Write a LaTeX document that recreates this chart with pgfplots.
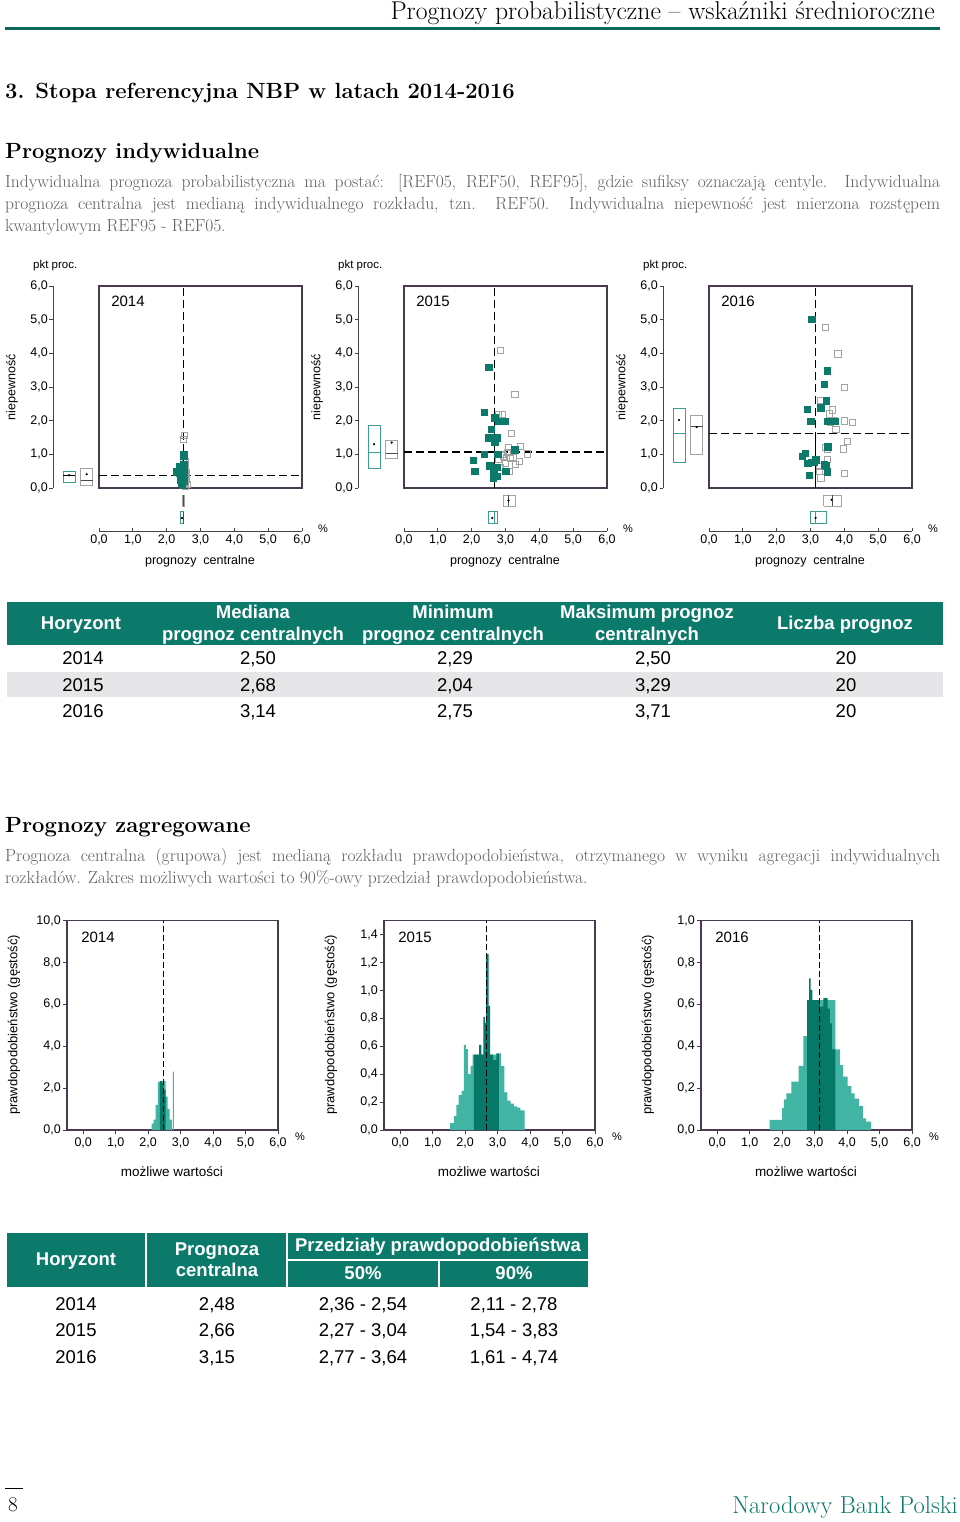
\documentclass[border=0pt]{standalone}
\usepackage{fontspec}
\setsansfont{Liberation Sans}
\usepackage{pgfplots}
\pgfplotsset{compat=1.18}
\newcommand\fsz[1]{\fontsize{#1}{#1}\selectfont}
\definecolor{nbpteal}{HTML}{0B7A6A}
\definecolor{histlight}{HTML}{42B4A3}
\definecolor{histdark}{HTML}{077868}
\definecolor{boxteal}{HTML}{3C9E90}
\definecolor{sqgray}{HTML}{A3A3A3}
\definecolor{frame}{HTML}{4A3A50}
\definecolor{axiscol}{HTML}{444444}
\definecolor{rowgray}{HTML}{E6E6E9}
\definecolor{txtgray}{HTML}{5E5E5E}
\pgfplotsset{
  every axis/.append style={/pgf/number format/assume math mode=true},
  tlab/.style={font=\sffamily\fsz{12.5}, /pgf/number format/.cd, fixed, fixed zerofill, precision=1, use comma},
  scatmain/.style={anchor=south west, scale only axis, width=203pt, height=202pt,
     xmin=0, xmax=6, ymin=0, ymax=6, ticks=none, clip=false,
     axis line style={draw=frame, line width=1.3pt}},
  gsq/.style={only marks, mark=square, mark size=3.1pt, mark options={draw=sqgray, fill=white, line width=0.9pt}},
  tsq/.style={only marks, mark=square*, mark size=3.2pt, mark options={draw=nbpteal, fill=nbpteal}},
  mline/.style={black, line width=1.1pt, dash pattern=on 8pt off 4pt},
  sline/.style={black, line width=1.1pt},
  tbox/.style={boxteal, line width=0.9pt},
  gbox/.style={sqgray, line width=0.9pt},
  gboxm/.style={black!70, line width=0.8pt},
  dot/.style={only marks, mark=*, mark size=0.9pt, black},
  histax/.style={anchor=south west, scale only axis, width=211pt, height=209.3pt,
     xmin=-0.5, xmax=6, ymin=0, xtick={0,1,2,3,4,5,6}, xtick pos=left, ytick pos=left,
     tick align=outside, major tick length=4pt,
     axis line style={draw=frame, line width=1.2pt}, tick style={draw=frame, line width=0.8pt},
     xticklabel style={tlab}, yticklabel style={inner sep=2pt, tlab}},
  hl/.style={const plot, fill=histlight, draw=none},
  hd/.style={const plot, fill=histdark, draw=none},
  hline/.style={black, line width=1.1pt, dash pattern=on 6pt off 3pt},
}
\newcommand{\scatterframe}[2]{%
  \begin{axis}[at={({#1pt-46pt},-488pt)}, anchor=south west, scale only axis, width=10pt, height=202pt,
     xmin=0, xmax=1, ymin=0, ymax=6, hide x axis, axis y line*=left, ytick={0,1,2,3,4,5,6},
     tick align=outside, major tick length=3.5pt,
     axis line style={draw=axiscol, line width=0.8pt}, tick style={draw=axiscol, line width=0.8pt},
     yticklabel style={inner sep=1.5pt, tlab}]
    \addplot[draw=none] coordinates {(0,0)};
  \end{axis}
  \begin{axis}[at={(#1pt,-531pt)}, anchor=south west, scale only axis, width=203pt, height=10pt,
     xmin=0, xmax=6, ymin=0, ymax=1, hide y axis, axis x line*=bottom, xtick={0,1,2,3,4,5,6},
     tick align=inside, major tick length=3pt,
     axis line style={draw=axiscol, line width=0.8pt}, tick style={draw=axiscol, line width=0.8pt},
     xticklabel style={inner sep=3.5pt, tlab}]
    \addplot[draw=none] coordinates {(0,0)};
  \end{axis}
  \node[font=\sffamily\fsz{11.5}, anchor=west, inner sep=0] at ({#1pt-66pt},-266pt) {pkt proc.};
  \node[font=\sffamily\fsz{12.5}, rotate=90] at ({#1pt-87pt},-387pt) {niepewność};
  \node[font=\sffamily\fsz{11}] at ({#1pt+224pt},-529pt) {\%};
  \node[font=\sffamily\fsz{12.5}] at ({#1pt+101pt},-561pt) {prognozy\ \ centralne};
  \node[font=\sffamily\fsz{15}] at ({#1pt+29pt},-301pt) {#2};
}
\newcommand{\histlabels}[2]{%
  \node[font=\sffamily\fsz{13}, rotate=90] at ({#1pt-53pt},-1025pt) {prawdopodobieństwo (gęstość)};
  \node[font=\sffamily\fsz{13.5}] at ({#1pt+105pt},-1172pt) {możliwe wartości};
  \node[font=\sffamily\fsz{11}] at ({#1pt+233pt},-1137pt) {\%};
  \node[font=\sffamily\fsz{15}] at ({#1pt+31pt},-937pt) {#2};
}
\begin{document}
\begin{tikzpicture}
\path[use as bounding box, fill=white] (0pt,0pt) rectangle (960pt,-1522pt);
% ---------- page header ----------
\node[anchor=base east, inner sep=0, font=\fsz{25.7}] at (935pt,-20pt) {Prognozy probabilistyczne – wskaźniki średnioroczne};
\fill[nbpteal!85!black] (5pt,-27.5pt) rectangle (940pt,-30.5pt);
\node[anchor=base west, inner sep=0, font=\bfseries\fsz{22}] at (5pt,-98.5pt) {3. Stopa referencyjna NBP w latach 2014-2016};
\node[anchor=base west, inner sep=0, font=\bfseries\fsz{22}] at (5pt,-159pt) {Prognozy indywidualne};
\node[anchor=base west, inner sep=0, font=\fsz{17.5}, text=txtgray] at (5pt,-187.5pt) {\makebox[935pt][s]{Indywidualna prognoza probabilistyczna ma postać: [REF05, REF50, REF95], gdzie sufiksy oznaczają centyle. Indywidualna}};
\node[anchor=base west, inner sep=0, font=\fsz{17.5}, text=txtgray] at (5pt,-209.5pt) {\makebox[935pt][s]{prognoza centralna jest medianą indywidualnego rozkładu, tzn. REF50. Indywidualna niepewność jest mierzona rozstępem}};
\node[anchor=base west, inner sep=0, font=\fsz{17.5}, text=txtgray] at (5pt,-231.5pt) {kwantylowym REF95 - REF05.};
% ---------- scatter 2014 ----------
\scatterframe{99}{2014}
\begin{axis}[scatmain, at={(99pt,-488pt)}]
 \addplot[gsq] coordinates {(2.52,1.55) (2.50,1.45) (2.55,0.80) (2.55,0.65) (2.58,0.45) (2.56,0.30) (2.60,0.10) (2.52,0.20) (2.50,0.40) (2.55,0.50) (2.50,0.30) (2.53,0.15) (2.50,0.55) (2.57,0.25) (2.50,0.10) (2.52,0.35) (2.50,0.75) (2.54,0.42) (2.50,0.20) (2.55,0.05)};
 \addplot[tsq] coordinates {(2.50,1.00) (2.50,0.95) (2.29,0.49) (2.33,0.50) (2.39,0.64) (2.42,0.55) (2.45,0.50) (2.47,0.40) (2.44,0.15) (2.40,0.25) (2.45,0.30) (2.50,0.20) (2.50,0.45) (2.48,0.60) (2.50,0.35) (2.46,0.10) (2.38,0.45) (2.50,0.70) (2.43,0.35) (2.50,0.50)};
 \addplot[mline] coordinates {(2.50,0) (2.50,6)};
 \addplot[sline] coordinates {(2.50,0) (2.50,1.1)};
 \addplot[mline] coordinates {(0,0.38) (6,0.38)};
 \addplot[tbox] coordinates {(-1.06,0.17) (-0.71,0.17) (-0.71,0.49) (-1.06,0.49) (-1.06,0.17)};
 \addplot[tbox, black] coordinates {(-1.06,0.38) (-0.71,0.38)};
 \addplot[dot] coordinates {(-0.885,0.38)};
 \addplot[gbox] coordinates {(-0.54,0.07) (-0.19,0.07) (-0.19,0.57) (-0.54,0.57) (-0.54,0.07)};
 \addplot[gboxm] coordinates {(-0.54,0.23) (-0.19,0.23)};
 \addplot[dot] coordinates {(-0.365,0.41)};
 \addplot[gbox] coordinates {(2.46,-0.54) (2.52,-0.54) (2.52,-0.21) (2.46,-0.21) (2.46,-0.54)};
 \addplot[gboxm] coordinates {(2.50,-0.54) (2.50,-0.21)};
 \addplot[tbox] coordinates {(2.42,-1.06) (2.51,-1.06) (2.51,-0.71) (2.42,-0.71) (2.42,-1.06)};
 \addplot[gboxm] coordinates {(2.50,-1.06) (2.50,-0.71)};
 \addplot[dot] coordinates {(2.45,-0.89)};
\end{axis}
% ---------- scatter 2015 ----------
\scatterframe{404}{2015}
\begin{axis}[scatmain, at={(404pt,-488pt)}]
 \addplot[gsq] coordinates {(2.85,4.09) (3.28,2.79) (2.78,2.19) (2.91,2.19) (3.18,1.61) (3.09,1.20) (3.43,1.24) (3.64,1.01) (3.22,0.91) (3.02,0.91) (2.80,0.84) (2.99,0.74) (3.41,0.78) (3.10,0.49) (2.95,0.95) (3.05,1.05) (2.90,1.00) (3.15,0.88) (2.85,0.60) (3.30,0.70)};
 \addplot[tsq] coordinates {(2.50,3.59) (2.37,2.26) (2.68,2.09) (2.80,1.99) (2.99,1.99) (2.58,1.75) (2.50,1.50) (2.74,1.50) (2.68,1.38) (3.27,1.14) (2.37,1.01) (2.77,1.01) (2.04,0.83) (2.09,0.50) (2.53,0.66) (2.74,0.62) (2.65,0.54) (3.01,0.50) (2.63,0.31) (2.74,0.35)};
 \addplot[mline] coordinates {(2.68,0) (2.68,6)};
 \addplot[sline] coordinates {(2.68,0) (2.68,2.1)};
 \addplot[mline] coordinates {(0,1.07) (6,1.07)};
 \addplot[tbox] coordinates {(-1.06,0.59) (-0.71,0.59) (-0.71,1.86) (-1.06,1.86) (-1.06,0.59)};
 \addplot[tbox] coordinates {(-1.06,1.07) (-0.71,1.07)};
 \addplot[dot] coordinates {(-0.885,1.30)};
 \addplot[gbox] coordinates {(-0.54,0.87) (-0.19,0.87) (-0.19,1.40) (-0.54,1.40) (-0.54,0.87)};
 \addplot[gboxm] coordinates {(-0.54,1.02) (-0.19,1.02)};
 \addplot[dot] coordinates {(-0.365,1.35)};
 \addplot[gbox] coordinates {(2.93,-0.54) (3.28,-0.54) (3.28,-0.21) (2.93,-0.21) (2.93,-0.54)};
 \addplot[gboxm] coordinates {(3.09,-0.54) (3.09,-0.21)};
 \addplot[dot] coordinates {(3.09,-0.37)};
 \addplot[tbox] coordinates {(2.51,-1.06) (2.75,-1.06) (2.75,-0.71) (2.51,-0.71) (2.51,-1.06)};
 \addplot[tbox] coordinates {(2.68,-1.06) (2.68,-0.71)};
 \addplot[dot] coordinates {(2.61,-0.89)};
\end{axis}
% ---------- scatter 2016 ----------
\scatterframe{709}{2016}
\begin{axis}[scatmain, at={(709pt,-488pt)}]
 \addplot[gsq] coordinates {(3.45,4.78) (3.81,3.98) (4.00,2.98) (3.29,2.59) (3.66,2.32) (4.00,1.99) (4.25,1.94) (3.75,1.75) (4.10,1.39) (3.51,1.14) (3.97,1.16) (3.51,0.84) (3.26,0.64) (3.26,0.49) (4.00,0.44) (3.31,0.30) (3.71,1.99) (3.60,1.95) (3.45,1.20) (3.55,2.20)};
 \addplot[tsq] coordinates {(3.03,5.01) (3.49,3.49) (3.40,3.08) (3.47,2.59) (3.30,2.39) (2.90,2.34) (3.01,1.99) (3.49,1.99) (3.71,1.99) (3.51,1.23) (2.84,1.04) (2.75,0.94) (2.92,0.74) (3.02,0.76) (3.15,0.84) (3.10,0.77) (3.47,0.66) (3.50,0.49) (2.97,0.38) (3.41,0.69)};
 \addplot[mline] coordinates {(3.14,0) (3.14,6)};
 \addplot[sline] coordinates {(3.14,0) (3.14,1.62)};
 \addplot[mline] coordinates {(0,1.62) (6,1.62)};
 \addplot[tbox] coordinates {(-1.06,0.77) (-0.71,0.77) (-0.71,2.37) (-1.06,2.37) (-1.06,0.77)};
 \addplot[tbox] coordinates {(-1.06,1.62) (-0.71,1.62)};
 \addplot[dot] coordinates {(-0.885,2.02)};
 \addplot[gbox] coordinates {(-0.54,0.99) (-0.19,0.99) (-0.19,2.15) (-0.54,2.15) (-0.54,0.99)};
 \addplot[gboxm] coordinates {(-0.54,1.83) (-0.19,1.83)};
 \addplot[dot] coordinates {(-0.365,1.81)};
 \addplot[gbox] coordinates {(3.39,-0.54) (3.90,-0.54) (3.90,-0.21) (3.39,-0.21) (3.39,-0.54)};
 \addplot[gboxm] coordinates {(3.64,-0.54) (3.64,-0.21)};
 \addplot[dot] coordinates {(3.62,-0.35)};
 \addplot[tbox] coordinates {(2.99,-1.06) (3.48,-1.06) (3.48,-0.71) (2.99,-0.71) (2.99,-1.06)};
 \addplot[tbox] coordinates {(3.15,-1.06) (3.15,-0.71)};
 \addplot[dot] coordinates {(3.15,-0.89)};
\end{axis}
% ---------- table 1 ----------
\fill[nbpteal] (7pt,-602pt) rectangle (943pt,-645pt);
\fill[rowgray] (7pt,-672pt) rectangle (943pt,-697pt);
\begin{scope}[every node/.style={anchor=base, inner sep=0, font=\sffamily\bfseries\fsz{18.5}, text=white}]
\node at (81pt,-629.5pt) {Horyzont};
\node at (253pt,-618.5pt) {Mediana};
\node at (253pt,-640pt) {prognoz centralnych};
\node at (453pt,-618.5pt) {Minimum};
\node at (453pt,-640pt) {prognoz centralnych};
\node at (647pt,-618.5pt) {Maksimum prognoz};
\node at (647pt,-640pt) {centralnych};
\node at (845pt,-629.5pt) {Liczba prognoz};
\end{scope}
\begin{scope}[every node/.style={anchor=base, inner sep=0, font=\sffamily\fsz{18.5}, text=black}]
\node at (83pt,-664.5pt) {2014}; \node at (258pt,-664.5pt) {2,50}; \node at (455pt,-664.5pt) {2,29}; \node at (653pt,-664.5pt) {2,50}; \node at (846pt,-664.5pt) {20};
\node at (83pt,-691pt) {2015}; \node at (258pt,-691pt) {2,68}; \node at (455pt,-691pt) {2,04}; \node at (653pt,-691pt) {3,29}; \node at (846pt,-691pt) {20};
\node at (83pt,-717.5pt) {2016}; \node at (258pt,-717.5pt) {3,14}; \node at (455pt,-717.5pt) {2,75}; \node at (653pt,-717.5pt) {3,71}; \node at (846pt,-717.5pt) {20};
\end{scope}
% ---------- section 2 ----------
\node[anchor=base west, inner sep=0, font=\bfseries\fsz{22}] at (5pt,-832pt) {Prognozy zagregowane};
\node[anchor=base west, inner sep=0, font=\fsz{17.5}, text=txtgray] at (5pt,-861.5pt) {\makebox[935pt][s]{Prognoza centralna (grupowa) jest medianą rozkładu prawdopodobieństwa, otrzymanego w wyniku agregacji indywidualnych}};
\node[anchor=base west, inner sep=0, font=\fsz{17.5}, text=txtgray] at (5pt,-883.5pt) {rozkładów. Zakres możliwych wartości to 90\%-owy przedział prawdopodobieństwa.};
% ---------- histogram 2014 ----------
\begin{axis}[histax, at={(67pt,-1130pt)}, ymax=10, ytick={0,2,4,6,8,10}]
 \addplot[hl] coordinates {(2.11,0.30) (2.17,0.50) (2.23,1.20) (2.30,2.30) (2.36,2.34) (2.54,1.60) (2.60,1.00) (2.66,0.50) (2.73,0) (2.765,2.79) (2.79,2.79)} \closedcycle;
 \addplot[hd] coordinates {(2.36,2.34) (2.42,2.25) (2.48,1.90) (2.54,1.90)} \closedcycle;
 \addplot[hline] coordinates {(2.48,0) (2.48,10)};
\end{axis}
\histlabels{67}{2014}
% ---------- histogram 2015 ----------
\begin{axis}[histax, at={(384pt,-1130pt)}, ymax=1.5, ytick={0,0.2,0.4,0.6,0.8,1.0,1.2,1.4}]
 \addplot[hl] coordinates {(1.54,0.05) (1.65,0.10) (1.73,0.18) (1.80,0.25) (1.89,0.28) (1.96,0.61) (2.02,0.58) (2.08,0.40) (2.17,0.46) (2.23,0.54) (2.27,0.54) (3.04,0.55) (3.10,0.46) (3.21,0.27) (3.30,0.21) (3.40,0.19) (3.50,0.17) (3.60,0.16) (3.70,0.14) (3.83,0.14)} \closedcycle;
 \addplot[hd] coordinates {(2.27,0.54) (2.43,0.61) (2.50,0.54) (2.56,0.81) (2.61,0.77) (2.645,1.26) (2.72,0.89) (2.77,0.54) (2.86,0.50) (2.96,0.55) (3.04,0.55)} \closedcycle;
 \addplot[hline] coordinates {(2.66,0) (2.66,1.5)};
\end{axis}
\histlabels{384}{2015}
% ---------- histogram 2016 ----------
\begin{axis}[histax, at={(701pt,-1130pt)}, ymax=1.0, ytick={0,0.2,0.4,0.6,0.8,1.0}]
 \addplot[hl] coordinates {(1.61,0.048) (2.00,0.104) (2.05,0.146) (2.13,0.175) (2.28,0.231) (2.51,0.306) (2.65,0.449) (2.77,0.62) (3.64,0.385) (3.78,0.31) (3.87,0.255) (4.02,0.21) (4.13,0.175) (4.23,0.15) (4.36,0.115) (4.49,0.056) (4.59,0.04) (4.74,0.04)} \closedcycle;
 \addplot[hd] coordinates {(2.77,0.62) (2.83,0.725) (2.88,0.67) (2.93,0.62) (3.16,0.59) (3.27,0.63) (3.40,0.58) (3.47,0.51) (3.53,0.385) (3.64,0.385)} \closedcycle;
 \addplot[hline] coordinates {(3.15,0) (3.15,1.0)};
\end{axis}
\histlabels{701}{2016}
% ---------- table 2 ----------
\fill[nbpteal] (7pt,-1233pt) rectangle (588pt,-1287pt);
\draw[white, line width=2pt] (146pt,-1233pt) -- (146pt,-1287pt);
\draw[white, line width=2pt] (287pt,-1233pt) -- (287pt,-1287pt);
\draw[white, line width=2pt] (287pt,-1259.5pt) -- (588pt,-1259.5pt);
\draw[white, line width=2pt] (438.5pt,-1259.5pt) -- (438.5pt,-1287pt);
\begin{scope}[every node/.style={anchor=base, inner sep=0, font=\sffamily\bfseries\fsz{18.5}, text=white}]
\node at (76pt,-1265.5pt) {Horyzont};
\node at (217pt,-1255.5pt) {Prognoza};
\node at (217pt,-1276.5pt) {centralna};
\node at (438pt,-1251.5pt) {Przedziały prawdopodobieństwa};
\node at (363pt,-1279.5pt) {50\%};
\node at (514pt,-1279.5pt) {90\%};
\end{scope}
\begin{scope}[every node/.style={anchor=base, inner sep=0, font=\sffamily\fsz{18.5}, text=black}]
\node at (76pt,-1310.5pt) {2014}; \node at (217pt,-1310.5pt) {2,48}; \node at (363pt,-1310.5pt) {2,36 - 2,54}; \node at (514pt,-1310.5pt) {2,11 - 2,78};
\node at (76pt,-1336.5pt) {2015}; \node at (217pt,-1336.5pt) {2,66}; \node at (363pt,-1336.5pt) {2,27 - 3,04}; \node at (514pt,-1336.5pt) {1,54 - 3,83};
\node at (76pt,-1363.5pt) {2016}; \node at (217pt,-1363.5pt) {3,15}; \node at (363pt,-1363.5pt) {2,77 - 3,64}; \node at (514pt,-1363.5pt) {1,61 - 4,74};
\end{scope}
% ---------- footer ----------
\draw[black, line width=0.8pt] (5pt,-1488pt) -- (23pt,-1488pt);
\node[anchor=base, inner sep=0, font=\fsz{21}] at (13pt,-1511pt) {8};
\node[anchor=base east, inner sep=0, font=\fsz{24.5}, text=nbpteal] at (958pt,-1513.5pt) {Narodowy Bank Polski};
\end{tikzpicture}
\end{document}
